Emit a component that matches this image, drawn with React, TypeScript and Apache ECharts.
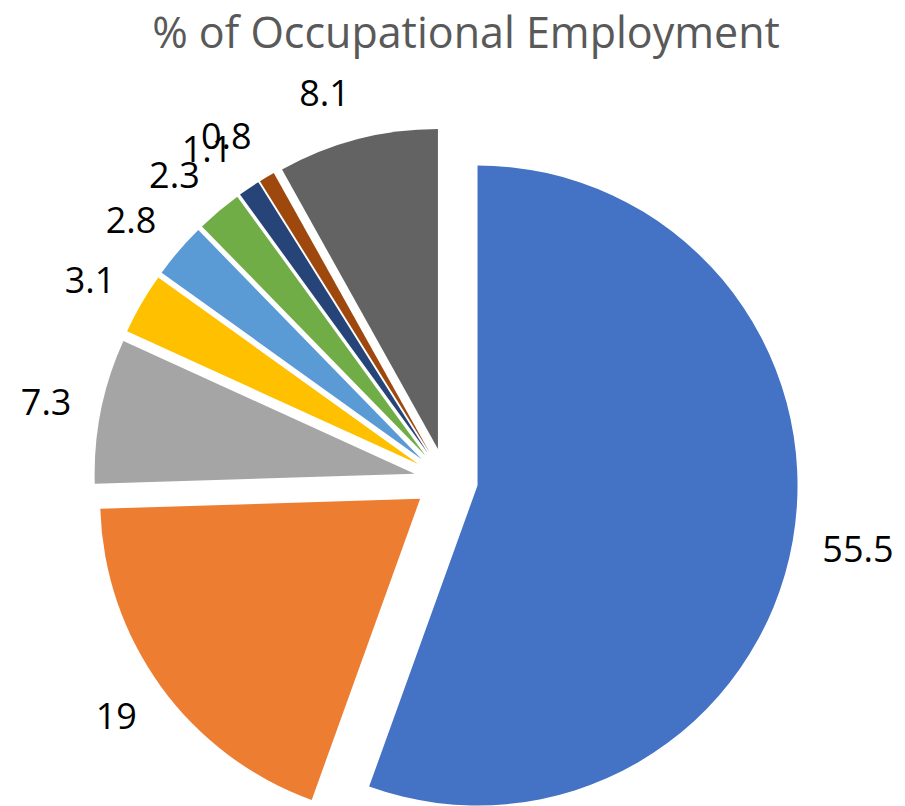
import React, { useEffect, useRef } from "react";
import * as echarts from "echarts";

const TITLE = "% of Occupational Employment";
const categories = ["A", "B", "C", "D", "E", "F", "G", "H", "I"];
const values = [55.5, 19, 7.3, 3.1, 2.8, 2.3, 1.1, 0.8, 8.1];
const colors = ["#4472C4", "#ED7D31", "#A5A5A5", "#FFC000", "#5B9BD5", "#70AD47", "#264478", "#9E480E", "#636363"];

export default function App() {
  const ref = useRef<HTMLDivElement>(null);
  useEffect(() => {
    if (!ref.current) return;
    const chart = echarts.init(ref.current, undefined, { renderer: "svg" });
    const total = values.reduce((a, b) => a + b, 0);
    const mids: number[] = [];
    let acc = 0;
    values.forEach((v) => {
      mids.push(((acc + v / 2) / total) * Math.PI * 2);
      acc += v;
    });
    chart.setOption({
      animation: false,
      backgroundColor: "#ffffff",
      graphic: [
        {
          type: "text",
          x: 466,
          y: 31,
          style: {
            text: TITLE,
            fontFamily: "Open Sans",
            fontSize: 43,
            fill: "#595959",
            textAlign: "center",
            textVerticalAlign: "middle",
          },
        },
      ],
      series: [
        {
          type: "pie",
          center: [446, 480],
          radius: 320,
          startAngle: 90,
          clockwise: true,
          selectedMode: "multiple",
          selectedOffset: 32,
          avoidLabelOverlap: false,
          emphasis: { disabled: true },
          itemStyle: { borderWidth: 0 },
          label: {
            show: true,
            position: "outside",
            formatter: "{c}",
            fontFamily: "Open Sans",
            fontSize: 36,
            color: "#000000",
            distanceToLabelLine: 0,
          },
          labelLine: { show: false, length: 30, length2: 0 },
          labelLayout: (params: any) => ({
            hideOverlap: false,
            moveOverlap: false,
            dy: -Math.cos(mids[params.dataIndex]) * 18,
          }),
          data: values.map((v, i) => ({
            name: categories[i],
            value: v,
            selected: true,
            itemStyle: { color: colors[i] },
          })),
        },
      ],
    });
    return () => chart.dispose();
  }, []);
  return <div ref={ref} style={{ position: "fixed", left: 0, top: 0, width: 905, height: 806 }} />;
}
